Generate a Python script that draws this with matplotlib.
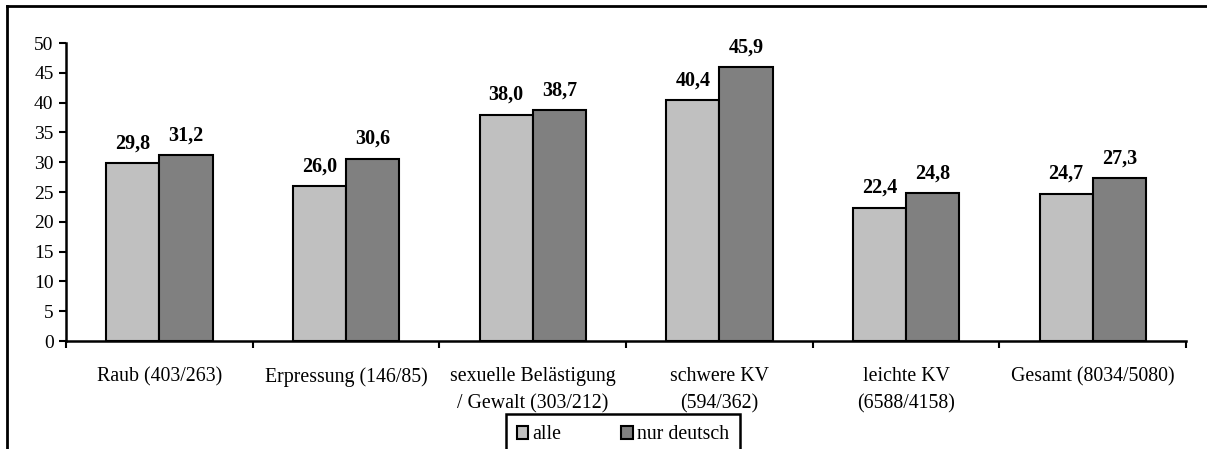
import matplotlib.pyplot as plt
import numpy as np
from matplotlib.lines import Line2D

plt.rcParams["font.family"] = ["Liberation Serif", "DejaVu Serif"]

categories = [
    "Raub (403/263)",
    "Erpressung (146/85)",
    "sexuelle Belästigung\n/ Gewalt (303/212)",
    "schwere KV\n(594/362)",
    "leichte KV\n(6588/4158)",
    "Gesamt (8034/5080)",
]
alle = [29.8, 26.0, 38.0, 40.4, 22.4, 24.7]
nur_deutsch = [31.2, 30.6, 38.7, 45.9, 24.8, 27.3]
series_names = ["alle", "nur deutsch"]
yticks = list(range(0, 55, 5))

fig = plt.figure(figsize=(12.07, 4.49), dpi=100)
ax = fig.add_axes([0.0547, 0.2405, 0.928, 0.6637])

x = np.arange(len(categories))
w = 0.285
bars1 = ax.bar(x - w / 2, alle, w, color="#C0C0C0", edgecolor="black", linewidth=1.5, label=series_names[0])
bars2 = ax.bar(x + w / 2, nur_deutsch, w, color="#808080", edgecolor="black", linewidth=1.5, label=series_names[1])

for bars in (bars1, bars2):
    for b in bars:
        h = b.get_height()
        ax.annotate(f"{h:.1f}".replace(".", ","), (b.get_x() + b.get_width() / 2, h),
                    xytext=(0, 7), textcoords="offset points", ha="center", va="bottom",
                    fontsize=14.5, fontweight="bold")

ax.set_xlim(-0.5, len(categories) - 0.5)
ax.set_ylim(0, 50)
ax.set_yticks(yticks)
ax.tick_params(axis="y", labelsize=14, direction="out", length=5, width=1.5, pad=4)

# category labels centred, tick marks at the group boundaries
ax.set_xticks(np.arange(len(categories) + 1) - 0.5)
ax.set_xticklabels([])
ax.tick_params(axis="x", direction="out", length=5, width=1.5)
ax.set_xticks(x, minor=True)
ax.set_xticklabels(categories, minor=True, fontsize=14.3, va="top", linespacing=1.55)
ax.tick_params(axis="x", which="minor", length=0, pad=19)

for s in ["top", "right"]:
    ax.spines[s].set_visible(False)
for s in ["left", "bottom"]:
    ax.spines[s].set_linewidth(1.8)

fig.legend(loc="upper center", bbox_to_anchor=(0.516, 0.077), ncol=2, fontsize=14.3,
           frameon=True, fancybox=False, edgecolor="black", framealpha=1,
           handlelength=0.6, handleheight=0.6, handletextpad=0.2, columnspacing=3.0,
           borderpad=0.55, borderaxespad=0)
leg = fig.legends[0]
leg.get_frame().set_linewidth(1.8)

# outer frame of the chart area (cropped at right and bottom)
fig.add_artist(Line2D([7 / 1207, 1.0], [1 - 6 / 449] * 2, color="black", lw=2, transform=fig.transFigure))
fig.add_artist(Line2D([7 / 1207] * 2, [0, 1 - 6 / 449], color="black", lw=2, transform=fig.transFigure))

fig.savefig("out.png", dpi=100, facecolor="white")
